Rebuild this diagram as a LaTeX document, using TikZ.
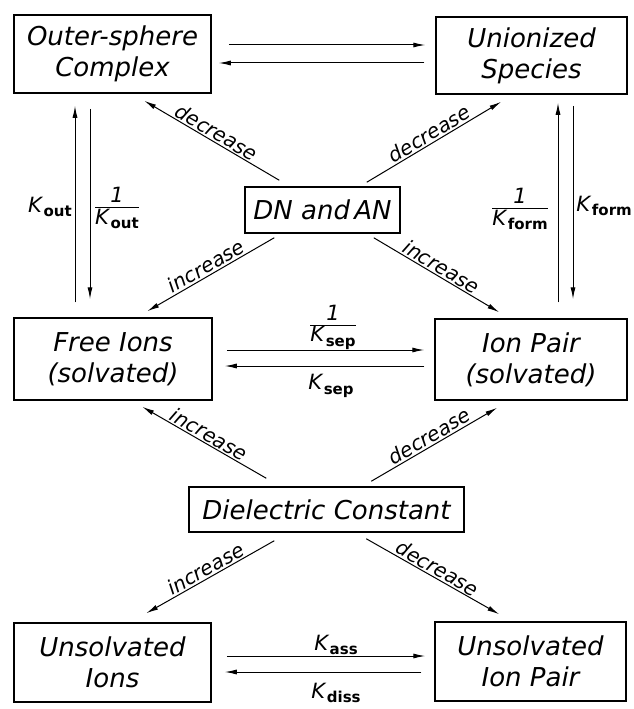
\documentclass[tikz,border=0pt]{standalone}
\usepackage{fontspec}
\setmainfont{DejaVu Sans}
\usetikzlibrary{arrows.meta,calc}
\newcommand\KK[1]{\textit{K}\kern0.3pt\raisebox{-0.4ex}{\fontsize{15}{15}\selectfont\upshape\bfseries #1}}
\newcommand\KF[1]{\begin{tabular}{@{}c@{}}\textit{1}\\[-2pt]\hline\noalign{\vskip1pt}\KK{#1}\end{tabular}}
\begin{document}
\begin{tikzpicture}[x=1pt,y=1pt,
  box/.style n args={2}{draw,line width=1.5pt,minimum width=#1,minimum height=#2,inner sep=0pt,align=center,font=\fontsize{26}{31}\selectfont\itshape},
  arr/.style={line width=1pt,-{Latex[length=12pt,width=5pt]}},
  lab/.style={midway,sloped,above,inner sep=1.5pt,font=\fontsize{20}{20}\selectfont\itshape},
  klab/.style={inner sep=0pt,font=\fontsize{21}{22}\selectfont}]
\useasboundingbox (0,0) rectangle (633,-709);
% boxes
\node[box={197pt}{78pt}] (outer) at (112.5,-54) {Outer-sphere\\Complex};
\node[box={191pt}{77pt}] (union) at (531.5,-55.5) {Unionized\\Species};
\node[box={155pt}{46pt}] (dn) at (322.5,-210) {DN and\,AN};
\node[box={198pt}{82pt}] (free) at (113,-359) {Free Ions\\(solvated)};
\node[box={192pt}{81pt}] (pair) at (531,-359.5) {Ion Pair\\(solvated)};
\node[box={275pt}{45pt}] (diel) at (326.5,-509.5) {Dielectric Constant};
\node[box={197pt}{79pt}] (uions) at (112.5,-662.5) {Unsolvated\\Ions};
\node[box={191pt}{79pt}] (upair) at (530.5,-661.5) {Unsolvated\\Ion Pair};
% horizontal pairs
\draw[arr] ($(outer.east)+(17,9)$) -- ($(union.west)+(-10,10.5)$);
\draw[arr] ($(union.west)+(-11,-7.5)$) -- ($(outer.east)+(7,-9)$);
\draw[arr] ($(free.east)+(14,9)$) -- ($(pair.west)+(-10,9.5)$);
\draw[arr] ($(pair.west)+(-10,-6.5)$) -- ($(free.east)+(12,-7)$);
\draw[arr] ($(uions.east)+(15,6.5)$) -- ($(upair.west)+(-9,5.5)$);
\draw[arr] ($(upair.west)+(-13,-10.5)$) -- ($(uions.east)+(13,-9.5)$);
% vertical pairs
\draw[arr] ($(free.north)+(-38,15)$) -- ($(outer.south)+(-37.5,-12)$);
\draw[arr] ($(outer.south)+(-22.5,-15)$) -- ($(free.north)+(-23,18)$);
\draw[arr] ($(pair.north)+(27,16)$) -- ($(union.south)+(26.5,-8)$);
\draw[arr] ($(union.south)+(41.5,-11)$) -- ($(pair.north)+(42,19)$);
% diagonals from DN and AN
\draw[arr] ($(dn.north west)+(35,6)$) -- node[lab]{decrease} ($(outer.south west)+(131,-7)$);
\draw[arr] ($(dn.north east)+(-34,4)$) -- node[lab]{decrease} ($(union.south west)+(66,-7)$);
\draw[arr] ($(dn.south west)+(30,-4)$) -- node[lab]{increase} ($(free.north west)+(134,6)$);
\draw[arr] ($(dn.south east)+(-27,-4)$) -- node[lab]{increase} ($(pair.north west)+(65,6)$);
% diagonals from dielectric constant
\draw[arr] ($(diel.north west)+(78,8)$) -- node[lab]{increase} ($(free.south west)+(129,-6)$);
\draw[arr] ($(diel.north west)+(183,5)$) -- node[lab]{decrease} ($(pair.south west)+(63,-7)$);
\draw[arr] ($(diel.south west)+(86,-8)$) -- node[lab]{increase} ($(uions.north west)+(133,9)$);
\draw[arr] ($(diel.south west)+(178,-6)$) -- node[lab]{decrease} ($(upair.north west)+(65,7)$);
% constants
\node[klab] (kout) at (50,-207) {\KK{out}};
\node[klab] (kouti) at (117,-209) {\KF{out}};
\node[klab] (kformi) at (520,-210) {\KF{form}};
\node[klab,anchor=east] (kform) at (632,-206) {\KK{form}};
\node[klab] (ksepi) at (333,-327) {\KF{sep}};
\node[klab] (ksep) at (331,-386) {\KK{sep}};
\node[klab] (kass) at (336,-645) {\KK{ass}};
\node[klab] (kdiss) at (336,-693) {\KK{diss}};
\end{tikzpicture}
\end{document}
